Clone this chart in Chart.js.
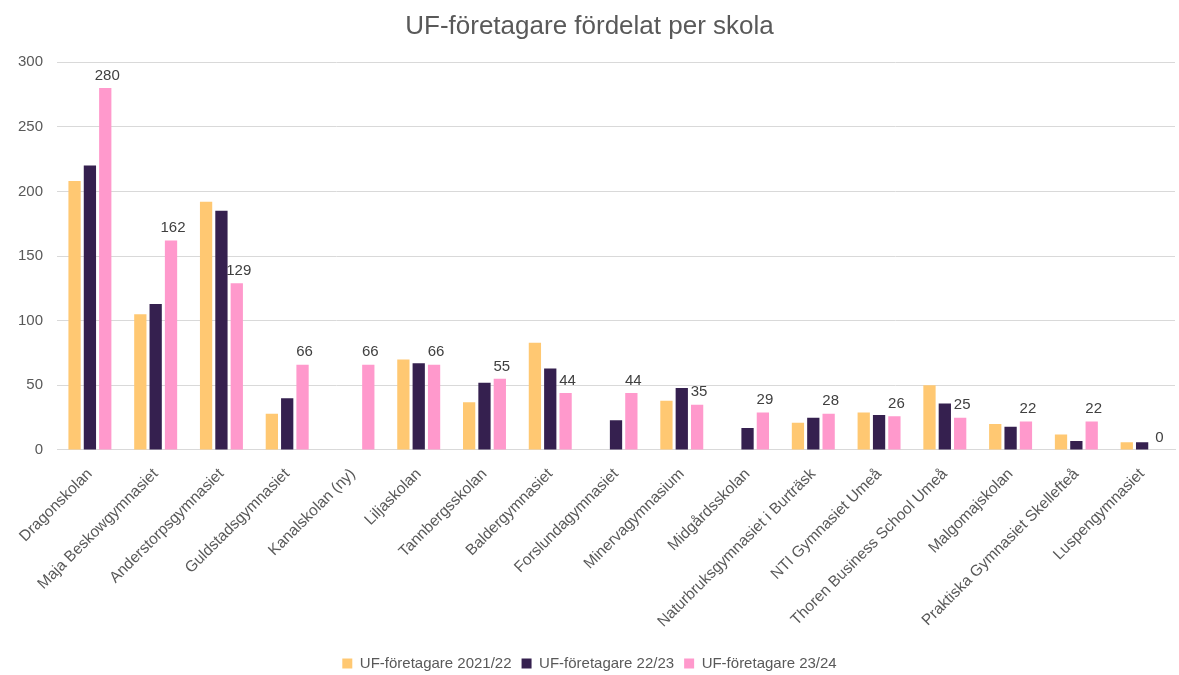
<!DOCTYPE html>
<html>
<head>
<meta charset="utf-8">
<script src="https://cdn.jsdelivr.net/npm/chart.js@4"></script>
<style>
    html, body { margin: 0; padding: 0; background: #fff; }
    #wrap { width: 1179px; height: 675px; position: relative; }
</style>
</head>
<body>
<div id="wrap"><canvas id="ufChart"></canvas></div>
<script>
// data
const schools = ['Dragonskolan', 'Maja Beskowgymnasiet', 'Anderstorpsgymnasiet', 'Guldstadsgymnasiet',
    'Kanalskolan (ny)', 'Liljaskolan', 'Tannbergsskolan', 'Baldergymnasiet', 'Forslundagymnasiet',
    'Minervagymnasium', 'Midgårdsskolan', 'Naturbruksgymnasiet i Burträsk', 'NTI Gymnasiet Umeå',
    'Thoren Business School Umeå', 'Malgomajskolan', 'Praktiska Gymnasiet Skellefteå', 'Luspengymnasiet'];
const uf2122 = [208, 105, 192, 28, null, 70, 37, 83, null, 38, null, 21, 29, 50, 20, 12, 6];
const uf2223 = [220, 113, 185, 40, null, 67, 52, 63, 23, 48, 17, 25, 27, 36, 18, 7, 6];
const uf2324 = [280, 162, 129, 66, 66, 66, 55, 44, 44, 35, 29, 28, 26, 25, 22, 22, 0];
const yTicks = [0, 50, 100, 150, 200, 250, 300];

const textGray = '#595959';
const fontFamily = '"Liberation Sans", Arial, sans-serif';

// value labels above the 23/24 bars
const valueLabels = {
    id: 'valueLabels',
    afterDatasetsDraw(chart) {
        const ctx = chart.ctx;
        const meta = chart.getDatasetMeta(2);
        ctx.save();
        ctx.font = '15px ' + fontFamily;
        ctx.fillStyle = '#404040';
        ctx.textAlign = 'center';
        ctx.textBaseline = 'bottom';
        meta.data.forEach((bar, i) => {
            const v = uf2324[i];
            if (v === null) return;
            ctx.fillText(String(v), bar.x + 2, bar.y - 5);
        });
        ctx.restore();
    }
};

const ctx = document.getElementById('ufChart').getContext('2d');

new Chart(ctx, {
    type: 'bar',
    data: {
        labels: schools,
        datasets: [
            { label: 'UF-företagare 2021/22', data: uf2122, backgroundColor: '#FFC872' },
            { label: 'UF-företagare 22/23', data: uf2223, backgroundColor: '#35204F' },
            { label: 'UF-företagare 23/24', data: uf2324, backgroundColor: '#FF99CC' }
        ]
    },
    options: {
        responsive: true,
        maintainAspectRatio: false,
        animation: false,
        layout: { padding: { left: 4, right: 4, top: 4, bottom: -6 } },
        datasets: {
            bar: { categoryPercentage: 0.7, barPercentage: 0.8 }
        },
        plugins: {
            title: {
                display: true,
                text: 'UF-företagare fördelat per skola',
                color: textGray,
                font: { family: fontFamily, size: 26, weight: 'normal' },
                padding: { top: 7, bottom: 20 }
            },
            legend: {
                position: 'bottom',
                labels: {
                    color: textGray,
                    boxWidth: 10,
                    boxHeight: 10,
                    padding: 10,
                    font: { family: fontFamily, size: 15 }
                }
            },
            tooltip: { enabled: false }
        },
        scales: {
            x: {
                grid: { display: false, drawTicks: false },
                border: { color: '#d9d9d9' },
                ticks: {
                    color: textGray,
                    minRotation: 45,
                    maxRotation: 45,
                    autoSkip: false,
                    padding: 15,
                    font: { family: fontFamily, size: 15.5 }
                }
            },
            y: {
                min: 0,
                max: 300,
                afterBuildTicks: axis => { axis.ticks = yTicks.map(v => ({ value: v })); },
                grid: { color: '#d9d9d9', drawTicks: false },
                border: { display: false },
                ticks: {
                    color: textGray,
                    padding: 14,
                    font: { family: fontFamily, size: 15 }
                }
            }
        }
    },
    plugins: [valueLabels]
});
</script>
</body>
</html>
